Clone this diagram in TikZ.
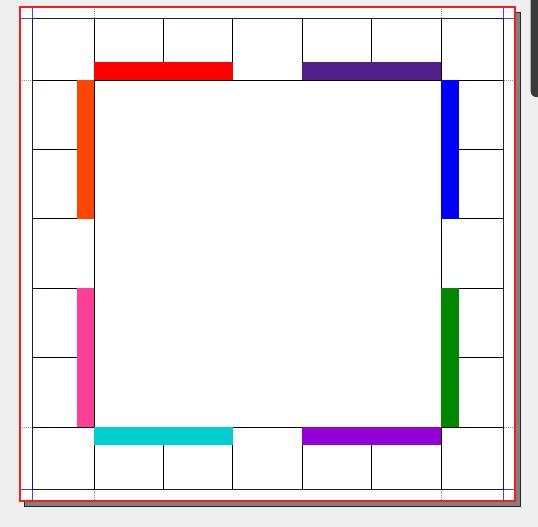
\documentclass[tikz,border=0pt]{standalone}
\usepackage{xcolor}
\usepackage{tikz}
\usetikzlibrary{
  positioning
}
\tikzset{
  corner/.style={
    rectangle, draw=black, fill=white, line width=0.8pt,
    minimum width=62pt, minimum height=62pt,
    inner sep=0pt, outer sep=0pt
  },
  hcell/.style={corner, minimum width=69.4pt},
  vcell/.style={corner, minimum height=69.4pt},
  hbar/.style={
    rectangle, minimum width=138.8pt, minimum height=17.5pt,
    inner sep=0pt, outer sep=0pt
  },
  vbar/.style={
    rectangle, minimum width=17.5pt, minimum height=138.8pt,
    inner sep=0pt, outer sep=0pt
  },
  guide/.style={line width=0.9pt, draw=guideBlue},
  dguide/.style={line width=0.7pt, draw=guideLight, dash pattern=on 1pt off 1pt}
}
\definecolor{bgGray}{HTML}{EFEFEF}
\definecolor{shadowGray}{HTML}{808080}
\definecolor{scrollGray}{HTML}{3B3B3B}
\definecolor{pageRed}{HTML}{FF1A1A}
\definecolor{guideBlue}{HTML}{4444FF}
\definecolor{guideLight}{HTML}{8080F0}
\definecolor{navyLine}{HTML}{1A1A48}
\definecolor{redSet}{HTML}{FF0000}
\definecolor{purpleSet}{HTML}{521E8C}
\definecolor{orangeSet}{HTML}{FF4500}
\definecolor{pinkSet}{HTML}{FF3E96}
\definecolor{blueSet}{HTML}{0000FF}
\definecolor{greenSet}{HTML}{008800}
\definecolor{cyanSet}{HTML}{00CED1}
\definecolor{violetSet}{HTML}{9400D3}

\begin{document}
\begin{tikzpicture}[x=1pt, y=-1pt,
    pagebox/.style={
      rectangle, fill=white, minimum width=495pt, minimum height=494pt,
      inner sep=0pt, outer sep=0pt
    },
    shadowbox/.style={
      rectangle, fill=shadowGray, draw=black!85, line width=1.2pt,
      minimum width=496pt, minimum height=494pt,
      inner sep=0pt, outer sep=0pt
    },
    scrollbar/.style={
      rectangle, rounded corners=6pt, fill=scrollGray,
      minimum width=20pt, minimum height=105pt, inner sep=0pt
    },
    ]

    \useasboundingbox (0,0) rectangle (538,527);
    \fill[bgGray] (0,0) rectangle (538,527);

    % page with its shadow
    \node[shadowbox] (shadow) at (272.6,259.5) {};
    \node[pagebox] (page) at (267.5,254) {};
    \node[scrollbar, anchor=north west] (scroll) at (530.5,-8) {};

    % margin guides
    \coordinate (gl) at (32,18);
    \coordinate (gr) at (503,489);
    \coordinate (dl) at (94.2,80);
    \coordinate (dr) at (441.2,427);
    \draw[dguide] (page.north -| dl) -- (page.south -| dl);
    \draw[dguide] (page.north -| dr) -- (page.south -| dr);
    \draw[dguide] (page.west |- dl) -- (page.east |- dl);
    \draw[dguide] (page.west |- dr) -- (page.east |- dr);
    \draw[guide] (page.north -| gl) -- (page.south -| gl);
    \draw[guide] (page.north -| gr) -- (page.south -| gr);
    \draw[guide] (page.west |- gl) -- (page.east |- gl);
    \draw[guide] (page.west |- gr) -- (page.east |- gr);

    % top row
    \node[corner, anchor=north west] (tl) at (gl) {};
    \node[hcell, right=0pt of tl] (t1) {};
    \node[hcell, right=0pt of t1] (t2) {};
    \node[hcell, right=0pt of t2] (t3) {};
    \node[hcell, right=0pt of t3] (t4) {};
    \node[hcell, right=0pt of t4] (t5) {};
    \node[corner, right=0pt of t5] (tr) {};

    % left and right columns
    \node[vcell, below=0pt of tl] (l1) {};
    \node[vcell, below=0pt of l1] (l2) {};
    \node[vcell, below=0pt of l2] (l3) {};
    \node[vcell, below=0pt of l3] (l4) {};
    \node[vcell, below=0pt of l4] (l5) {};
    \node[vcell, below=0pt of tr] (r1) {};
    \node[vcell, below=0pt of r1] (r2) {};
    \node[vcell, below=0pt of r2] (r3) {};
    \node[vcell, below=0pt of r3] (r4) {};
    \node[vcell, below=0pt of r4] (r5) {};

    % bottom row
    \node[corner, below=0pt of l5] (bl) {};
    \node[hcell, right=0pt of bl] (b1) {};
    \node[hcell, right=0pt of b1] (b2) {};
    \node[hcell, right=0pt of b2] (b3) {};
    \node[hcell, right=0pt of b3] (b4) {};
    \node[hcell, right=0pt of b4] (b5) {};
    \node[corner, right=0pt of b5] (br) {};

    % colour sets
    \node[hbar, fill=redSet, anchor=south west] (redset) at (t1.south west) {};
    \node[hbar, fill=purpleSet, anchor=south west] (purpleset) at (t4.south west) {};
    \node[vbar, fill=orangeSet, anchor=north east] (orangeset) at (l1.north east) {};
    \node[vbar, fill=pinkSet, anchor=north east] (pinkset) at (l4.north east) {};
    \node[vbar, fill=blueSet, anchor=north west] (blueset) at (r1.north west) {};
    \node[vbar, fill=greenSet, anchor=north west] (greenset) at (r4.north west) {};
    \node[hbar, fill=cyanSet, anchor=north west] (cyanset) at (b1.north west) {};
    \node[hbar, fill=violetSet, anchor=north west] (violetset) at (b4.north west) {};

    \draw[line width=0.8pt, draw=navyLine] (tl.north west) rectangle (br.south east);
    \draw[line width=2.2pt, draw=pageRed] (page.north west) rectangle (page.south east);

  \end{tikzpicture}
\end{document}
